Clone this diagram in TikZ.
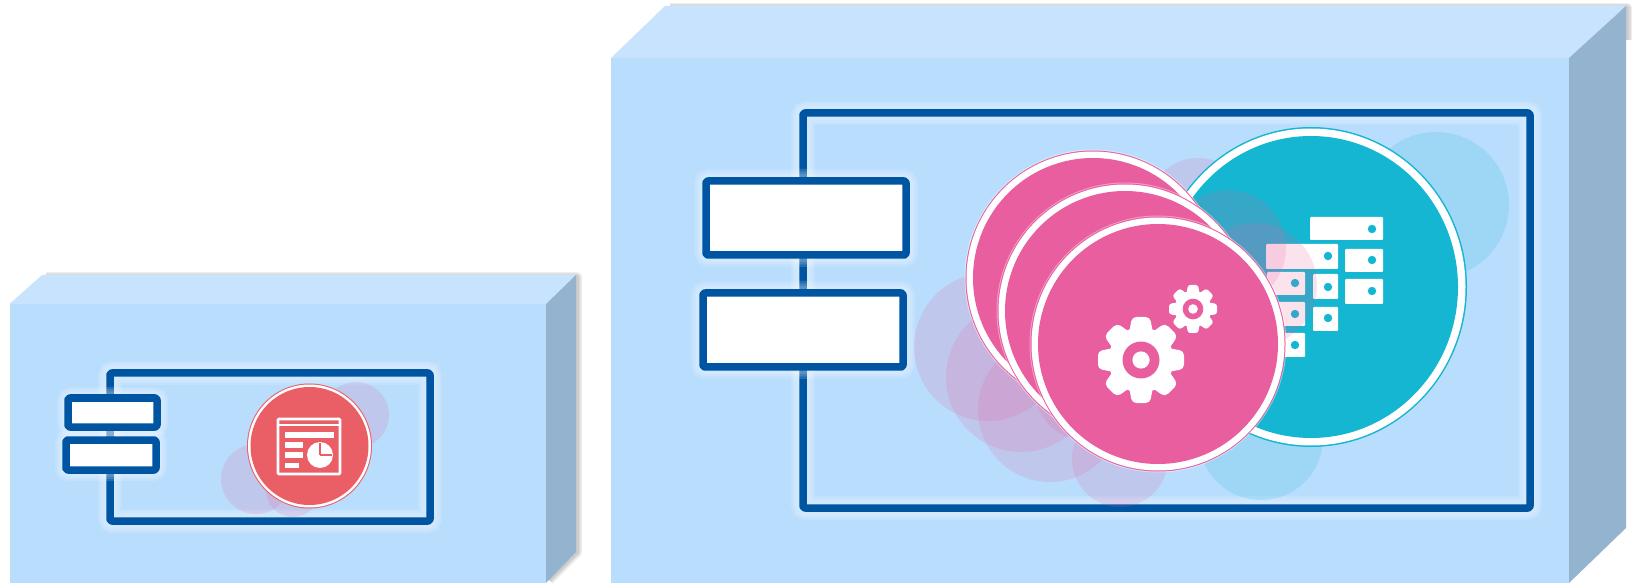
\documentclass[tikz,border=0pt]{standalone}
\definecolor{frontc}{HTML}{B9DDFD}
\definecolor{topc}{HTML}{C7E3FD}
\definecolor{sidec}{HTML}{93B3CF}
\definecolor{linec}{HTML}{0055A3}
\definecolor{tealc}{HTML}{14B6D1}
\definecolor{pinkc}{HTML}{E85E9F}
\definecolor{redc}{HTML}{EA5E65}
\tikzset{
  frontface/.style={fill=frontc,draw=none},
  topface/.style={fill=topc,draw=none},
  sideface/.style={fill=sidec,draw=none},
  boxshade/.style={draw=black,opacity=.07,line width=#1,line join=round},
  glowa/.style={draw=white,opacity=.14,line width=#1,rounded corners=3,fill=none},
  compbox/.style={draw=linec,line width=7.5,rounded corners=2,line join=round},
  portbox/.style={draw=linec,fill=white,line width=7.5,rounded corners=2,line join=round},
  pinkbub/.style={fill=pinkc,opacity=.17},
  tealbub/.style={fill=tealc,opacity=.16},
  iconw/.style={fill=white,draw=none},
  holedot/.style={fill=tealc,draw=none},
  iconline/.style={draw=white,line width=2.6,fill=none}
}
\newcommand{\cogwheel}[4]{% cx cy outer-radius bg
  \begin{scope}[shift={(#1,#2)}]
    \foreach \a in {0,45,...,315}{
      \fill[white,rounded corners=.1*#3,rotate=\a] (-.3*#3,.5*#3) -- (-.21*#3,#3) -- (.21*#3,#3) -- (.3*#3,.5*#3) -- cycle;
    }
    \fill[white] (0,0) circle[radius=.76*#3];
    \fill[#4] (0,0) circle[radius=.43*#3];
    \fill[white] (0,0) circle[radius=.2*#3];
  \end{scope}}
\newcommand{\rackunit}[6]{% x1 y1 x2 y2 dotx doty
  \fill[white,rounded corners=1] (#1,#2) rectangle (#3,#4);
  \fill[holedot] (#5,#6) circle[radius=4.2];}
\begin{document}
\begin{tikzpicture}[x=1pt,y=-1pt]
\useasboundingbox (0,0) rectangle (1634,585);
% ---- small box
\foreach \w in {10,7,4}{
  \draw[boxshade=\w] (46,277) -- (577,277) -- (577,552) -- (549,580);
}
\fill[topface] (9.5,304) -- (42,275) -- (576,275) -- (546,304) -- cycle;
\fill[sideface] (546,304) -- (576,275) -- (576,552) -- (546,583) -- cycle;
\fill[frontface] (9.5,304) rectangle (546,583);
% ---- small component
\foreach \w in {24,20,15}{
  \draw[glowa=\w] (110,373) rectangle (430,521);
}
\draw[compbox] (110,373) rectangle (430,521);
\foreach \w in {22,18,13}{
  \draw[glowa=\w] (68,398) rectangle (157,427);
  \draw[glowa=\w] (66,440) rectangle (156,470);
}
\draw[portbox] (68,398) rectangle (157,427);
\draw[portbox] (66,440) rectangle (156,470);
% small bubbles
\fill[pinkbub] (356,415) circle[radius=33];
\fill[pinkbub] (256,479) circle[radius=35];
\fill[pinkbub] (293,490) circle[radius=27];
% red circle
\fill[redc] (309.5,446) circle[radius=62.5];
\fill[white] (309.5,446) circle[radius=61.5];
\fill[redc] (309.5,446) circle[radius=59];
% report icon
\draw[iconline,rounded corners=1] (278,419) rectangle (340,474);
\draw[white,line width=1.8] (278,425) -- (340,425);
\fill[iconw] (285,431.5) rectangle (334,437.5);
\fill[iconw] (285,442) rectangle (303,447.5);
\fill[iconw] (285,452) rectangle (303,458);
\fill[iconw] (285,463) rectangle (299,468);
\fill[white] (320,455) circle[radius=13];
\draw[redc,line width=1.2] (320,455) -- (332,455) (320,455) -- (320,443);
% ---- big box
\foreach \w in {10,7,4}{
  \draw[boxshade=\w] (670,8) -- (1627,8) -- (1627,40);
}
\fill[topface] (611,58) -- (665,6) -- (1626,6) -- (1569,58) -- cycle;
\fill[sideface] (1569,58) -- (1626,6) -- (1626,528) -- (1569,583) -- cycle;
\fill[frontface] (611,58) rectangle (1569,583);
% ---- big component
\foreach \w in {24,20,15}{
  \draw[glowa=\w] (803,113) rectangle (1530,508);
}
\draw[compbox] (803,113) rectangle (1530,508);
\foreach \w in {24,19,14}{
  \draw[glowa=\w] (706,181) rectangle (906,255);
  \draw[glowa=\w] (703,293) rectangle (903,367);
}
\draw[portbox] (706,181) rectangle (906,255);
\draw[portbox] (703,293) rectangle (903,367);
% bubbles behind discs
\fill[tealbub] (1436,205) circle[radius=73];
\fill[tealbub] (1261,438) circle[radius=62];
\fill[pinkbub] (988,347) circle[radius=74];
\fill[pinkbub] (1021,377) circle[radius=75];
\fill[pinkbub] (1050,410) circle[radius=72];
\fill[pinkbub] (1085,390) circle[radius=50];
\fill[pinkbub] (1120,459) circle[radius=48];
\fill[pinkbub] (1198,208) circle[radius=50];
% teal disc
\fill[tealc] (1311,287) ellipse[x radius=156,y radius=160];
\fill[white] (1311,287) ellipse[x radius=154.5,y radius=158.5];
\fill[tealc] (1311,287) ellipse[x radius=147,y radius=151];
% rack icon
\rackunit{1310}{217}{1383}{240}{1372}{229}
\rackunit{1266}{244}{1338}{269}{1328}{256}
\rackunit{1345}{249}{1383}{272}{1372}{260}
\rackunit{1345}{279}{1383}{304}{1372}{291}
\rackunit{1313}{274}{1338}{299}{1328}{287}
\rackunit{1313}{307}{1338}{331}{1328}{318}
\rackunit{1267}{272}{1305}{295}{1295}{283}
\rackunit{1267}{302}{1305}{326}{1295}{314}
\rackunit{1267}{333}{1305}{357}{1295}{345}
% bubbles over the teal disc
\fill[pinkbub] (1228,248) circle[radius=58];
\fill[pinkbub] (1255,285) circle[radius=62];
% pink discs
\foreach \cx/\cy in {1093/278,1125/311,1158/344}{
  \fill[white,opacity=.4] (\cx,\cy) circle[radius=128.5];
  \fill[pinkc] (\cx,\cy) circle[radius=127.5];
  \fill[white] (\cx,\cy) circle[radius=126.5];
  \fill[pinkc] (\cx,\cy) circle[radius=120];
}
% cogs
\cogwheel{1141}{360}{43}{pinkc}
\cogwheel{1193}{309}{24}{pinkc}
\end{tikzpicture}
\end{document}
